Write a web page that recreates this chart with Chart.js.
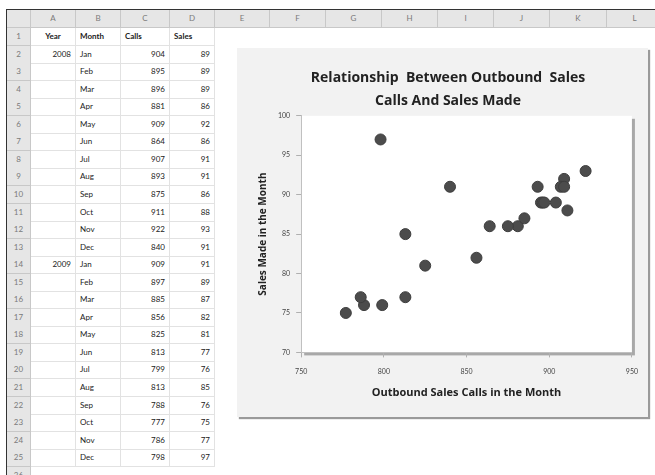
<!DOCTYPE html>
<html>
<head>
<meta charset="utf-8">
<script src="https://cdn.jsdelivr.net/npm/chart.js@4"></script>
<style>
  body { margin: 0; width: 655px; height: 475px; overflow: hidden; background: #fff; position: relative; font-family: Lato, "Open Sans", sans-serif; }
  .c { position: absolute; box-sizing: border-box; font-size: 8px; line-height: 17px; color: #222; white-space: nowrap; }
  .hd { background: #e6e6e6; color: #7a7a7a; text-align: center; border-right: 1px solid #c8c8c8; border-bottom: 1px solid #c8c8c8; }
  .g { border-right: 1px solid #e2e2e2; border-bottom: 1px solid #e2e2e2; padding: 0 4px; }
  #chartBox { position: absolute; left: 237px; top: 48px; width: 411px; height: 369px; background: #f2f2f2; box-shadow: 2px 2px 1px #9a9a9a; }
</style>
</head>
<body>
<div id="sheet"></div>
<div id="chartBox"><canvas id="scatter" width="411" height="369"></canvas></div>
<script>
// data from the sheet
const years = ["2008", "", "", "", "", "", "", "", "", "", "", "", "2009", "", "", "", "", "", "", "", "", "", "", ""];
const months = ["Jan", "Feb", "Mar", "Apr", "May", "Jun", "Jul", "Aug", "Sep", "Oct", "Nov", "Dec",
                "Jan", "Feb", "Mar", "Apr", "May", "Jun", "Jul", "Aug", "Sep", "Oct", "Nov", "Dec"];
const calls = [904, 895, 896, 881, 909, 864, 907, 893, 875, 911, 922, 840,
               909, 897, 885, 856, 825, 813, 799, 813, 788, 777, 786, 798];
const sales = [89, 89, 89, 86, 92, 86, 91, 91, 86, 88, 93, 91,
               91, 89, 87, 82, 81, 77, 76, 85, 76, 75, 77, 97];
const headers = ["Year", "Month", "Calls", "Sales"];
const colLetters = ["A", "B", "C", "D", "E", "F", "G", "H", "I", "J", "K", "L"];

// spreadsheet grid
const sheet = document.getElementById("sheet");
const colEdges = [31, 76, 121, 170, 215, 270, 326, 382, 438, 494, 550, 607, 663];
const top0 = 10, hdH = 18, rowH = 17.55;

function cell(x, y, w, h, cls, text, align) {
  const d = document.createElement("div");
  d.className = "c " + cls;
  d.style.left = x + "px"; d.style.top = y + "px";
  d.style.width = w + "px"; d.style.height = h + "px";
  if (align) d.style.textAlign = align;
  d.textContent = text;
  sheet.appendChild(d);
  return d;
}

// frame lines
cell(6, 9, 660, 1, "", "").style.background = "#333";
cell(6, 9, 1, 470, "", "").style.background = "#333";

// corner + column headers
cell(7, top0, colEdges[0] - 7, hdH, "hd", "");
for (let i = 0; i < colLetters.length; i++) {
  cell(colEdges[i], top0, colEdges[i + 1] - colEdges[i], hdH, "hd", colLetters[i]);
}

// rows
for (let r = 0; r < 26; r++) {
  const y = top0 + hdH + r * rowH;
  cell(7, y, colEdges[0] - 7, rowH + 0.5, "hd", String(r + 1));
  if (r >= 25) continue;
  let vals;
  if (r === 0) vals = headers;
  else vals = [years[r - 1], months[r - 1], String(calls[r - 1]), String(sales[r - 1])];
  const aligns = r === 0 ? ["center", "left", "left", "left"] : ["right", "left", "right", "right"];
  for (let c = 0; c < 4; c++) {
    const d = cell(colEdges[c], y, colEdges[c + 1] - colEdges[c], rowH + 0.5, "g", vals[c], aligns[c]);
    if (r === 0) d.style.fontWeight = "bold";
  }
}

// white plot area with a soft shadow
const plotBg = {
  id: "plotBg",
  beforeDraw(chart) {
    const a = chart.chartArea, ctx = chart.ctx;
    ctx.save();
    ctx.fillStyle = "#a8a8a8";
    ctx.fillRect(a.left + 3, a.top + 3, a.right - a.left, a.bottom - a.top);
    ctx.fillStyle = "#ffffff";
    ctx.fillRect(a.left, a.top, a.right - a.left, a.bottom - a.top);
    ctx.restore();
  }
};

new Chart(document.getElementById("scatter"), {
  type: "scatter",
  data: {
    datasets: [{
      label: "Sales",
      data: calls.map((v, i) => ({ x: v, y: sales[i] })),
      pointRadius: 5.5,
      pointHoverRadius: 5.5,
      backgroundColor: "#4c4c4c",
      borderColor: "#3e3e3e",
      borderWidth: 1
    }]
  },
  options: {
    responsive: false,
    animation: false,
    layout: { padding: { left: 16, right: 5, top: 0, bottom: 14 } },
    plugins: {
      legend: { display: false },
      tooltip: { enabled: false },
      title: {
        display: true,
        text: ["Relationship  Between Outbound  Sales", "Calls And Sales Made"],
        color: "#222",
        font: { family: "Open Sans", size: 14, weight: "bold", lineHeight: 1.6 },
        padding: { top: 19, bottom: 4 }
      }
    },
    scales: {
      x: {
        min: 750, max: 950,
        ticks: { stepSize: 50, color: "#444", font: { family: "Lato", size: 7 }, padding: 10 },
        grid: { drawOnChartArea: false, tickLength: 5, tickColor: "#b0b0b0" },
        border: { display: true, color: "#c0c0c0" },
        title: { display: true, text: "Outbound Sales Calls in the Month", color: "#222",
                 font: { family: "Open Sans", size: 11, weight: "bold" }, padding: { top: 0 } }
      },
      y: {
        min: 70, max: 100,
        ticks: { stepSize: 5, color: "#444", font: { family: "Lato", size: 7 }, padding: 6 },
        grid: { drawOnChartArea: false, tickLength: 5, tickColor: "#b0b0b0" },
        border: { display: true, color: "#c0c0c0" },
        title: { display: true, text: "Sales Made in the Month", color: "#222",
                 font: { family: "Open Sans", size: 10, weight: "bold" }, padding: { bottom: 3 } }
      }
    }
  },
  plugins: [plotBg]
});
</script>
</body>
</html>
